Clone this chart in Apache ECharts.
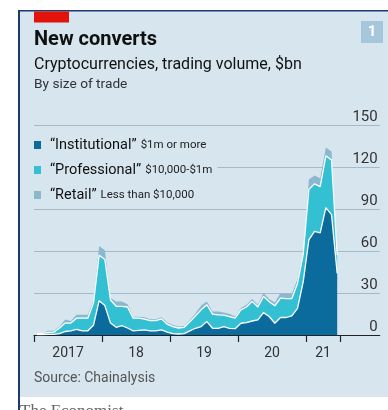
<!DOCTYPE html>
<html><head><meta charset="utf-8">
<script src="https://cdn.jsdelivr.net/npm/echarts@6/dist/echarts.min.js"></script>
<style>html,body{margin:0;padding:0;background:#fff}#c{width:388px;height:410px}</style>
</head><body><div id="c"></div>
<script>
// Monthly trading volume, $bn, Jan 2017 - Jun 2021 (month index 0 = Jan 2017)
const institutional = [0.3,0.3,0.5,0.5,1.0,2.5,3.0,4.0,3.0,3.0,7.0,24.5,
  21.0,8.5,5.5,6.7,5.0,3.0,3.3,3.6,3.0,3.0,3.6,2.0,
  1.0,0.7,1.0,3.0,4.8,6.0,9.6,4.8,4.8,6.0,4.8,4.5,
  8.4,8.9,10.0,10.8,16.0,13.2,8.4,12.5,12.5,13.7,19.0,38.0,
  68.0,74.0,73.0,91.0,86.0,44.0];
const professional = [0.7,0.9,1.3,1.5,4.0,6.0,5.5,8.0,9.0,9.0,16.0,32.5,
  33.0,16.5,15.0,13.8,15.0,9.0,8.7,7.7,7.3,7.3,7.9,5.7,
  5.0,4.3,4.5,6.4,8.9,12.0,12.0,10.1,9.6,8.2,8.4,7.5,
  9.6,11.1,14.0,9.2,11.6,10.6,12.5,13.9,13.5,12.3,18.0,19.6,
  36.0,34.0,33.0,37.0,39.0,13.0];
const retail = [0.2,0.3,1.2,1.0,1.0,2.5,1.5,2.5,2.5,2.5,2.0,6.5,
  6.5,1.5,3.5,3.5,2.0,1.0,1.0,1.4,1.0,1.0,1.2,1.3,
  1.2,1.0,1.0,1.4,1.9,3.0,2.4,1.9,2.4,1.8,1.8,1.2,
  1.2,1.6,1.7,1.6,2.4,1.9,2.4,3.6,3.5,3.5,3.0,1.4,
  7.0,6.0,6.0,6.0,6.0,3.0];
const seriesNames = ['\u201cInstitutional\u201d','\u201cProfessional\u201d','\u201cRetail\u201d'];
const seriesNotes = ['$1m or more','$10,000-$1m','Less than $10,000'];
const yearLabels = ['2017','18','19','20','21'];
const yearLabelMonths = [6,18,30,42,51];
const yearTickMonths = [0,12,24,36,48,54];
const monthCount = 61; // axis runs Jan 2017 to Jan 2022
const monthNames = ['Jan','Feb','Mar','Apr','May','Jun','Jul','Aug','Sep','Oct','Nov','Dec'];
const months = [];
for (let i = 0; i < monthCount; i++) months.push(monthNames[i % 12] + ' ' + (2017 + Math.floor(i / 12)));

const font = 'Roboto, "Noto Sans", sans-serif';
const colors = ['#0b6b9d','#34c0d3','#8cb8ce'];
const bg = '#d6e5ee';

const chart = echarts.init(document.getElementById('c'), null, {renderer:'canvas'});
const mk = (k, z, line) => ({
  name: seriesNames[k], type:'line', stack:'vol', data: [institutional,professional,retail][k],
  symbol:'none', showSymbol:false, z: z, emphasis:{disabled:true},
  itemStyle:{color:colors[k]},
  areaStyle:{color:colors[k], opacity:1},
  lineStyle: line ? {color:'#ffffff', width:1.3} : {color:colors[k], width:0}
});
chart.setOption({
  animation:false,
  backgroundColor: bg,
  textStyle:{fontFamily:font},
  grid:{left:34, right:8.3, top:125, bottom:75},
  xAxis:[{type:'category', data:months, boundaryGap:true, splitLine:{show:false},
    axisLine:{lineStyle:{color:'#222', width:1.2}},
    axisTick:{show:false},
    axisLabel:{interval:(i)=>yearLabelMonths.indexOf(i) >= 0,
      formatter:(v,i)=>yearLabels[yearLabelMonths.indexOf(i)],
      fontSize:14, color:'#333', margin:11, fontFamily:font, padding:[0,5.6,0,0]}},
    {type:'value', position:'bottom', min:0, max:monthCount, splitLine:{show:false},
    axisLine:{show:false}, axisLabel:{show:false},
    axisTick:{customValues:yearTickMonths, length:7, lineStyle:{color:'#222', width:1.2}}}],
  yAxis:{type:'value', position:'right', min:0, max:150, interval:30,
    axisLine:{show:false}, axisTick:{show:false},
    splitLine:{lineStyle:{color:'#a5bac9', width:1}},
    axisLabel:{inside:true, margin:2, verticalAlign:'bottom', fontSize:15, color:'#333', fontFamily:font}},
  legend:{left:30, top:135, orient:'vertical', itemWidth:7, itemHeight:8, itemGap:9, icon:'rect',
    backgroundColor:bg, padding:[2,5,2,4], data:seriesNames,
    itemStyle:{borderWidth:0}, lineStyle:{width:0},
    formatter:name=>' {a|'+name+'} {b|'+seriesNotes[seriesNames.indexOf(name)]+'}',
    textStyle:{fontFamily:font, fontSize:16, lineHeight:16, rich:{
      a:{fontSize:14.5, color:'#111', fontFamily:font, lineHeight:16},
      b:{fontSize:11.5, color:'#222', fontFamily:font, lineHeight:16}}}},
  series:[mk(0,5,true), mk(1,4,true), mk(2,3,false)],
  graphic:[
    {type:'rect', shape:{x:0,y:0,width:18,height:410}, style:{fill:'#fff'}, silent:true},
    {type:'rect', shape:{x:0,y:0,width:388,height:10}, style:{fill:'#fff'}, silent:true},
    {type:'rect', shape:{x:0,y:397,width:388,height:13}, style:{fill:'#fff'}, silent:true},
    {type:'rect', shape:{x:18,y:10,width:2,height:400}, style:{fill:'#1d3a6c'}, silent:true},
    {type:'rect', shape:{x:18,y:10,width:370,height:1.5}, style:{fill:'#1d3a6c'}, silent:true},
    {type:'rect', shape:{x:34,y:11.5,width:35,height:11}, style:{fill:'#e3120b'}, silent:true},
    {type:'rect', shape:{x:361,y:21,width:22,height:22}, style:{fill:'#a6c7db'}, silent:true},
    {type:'text', x:372, y:32, style:{text:'1', fill:'#fff', font:'bold 15px '+font, align:'center', verticalAlign:'middle'}},
    {type:'text', x:34, y:40, style:{text:'New converts', fill:'#111', font:'bold 20px '+font, verticalAlign:'middle'}},
    {type:'text', x:34, y:65, style:{text:'Cryptocurrencies, trading volume, $bn', fill:'#111', font:'16px '+font, verticalAlign:'middle'}},
    {type:'text', x:34, y:84.5, style:{text:'By size of trade', fill:'#333', font:'13.7px '+font, verticalAlign:'middle'}},
    {type:'text', x:34, y:378, style:{text:'Source: Chainalysis', fill:'#555', font:'14px '+font, verticalAlign:'middle'}},
    {type:'text', x:20, y:412, style:{text:'The Economist', fill:'#666', font:'17px "Liberation Serif", "DejaVu Serif", serif', verticalAlign:'middle'}}
  ]
});
</script></body></html>
